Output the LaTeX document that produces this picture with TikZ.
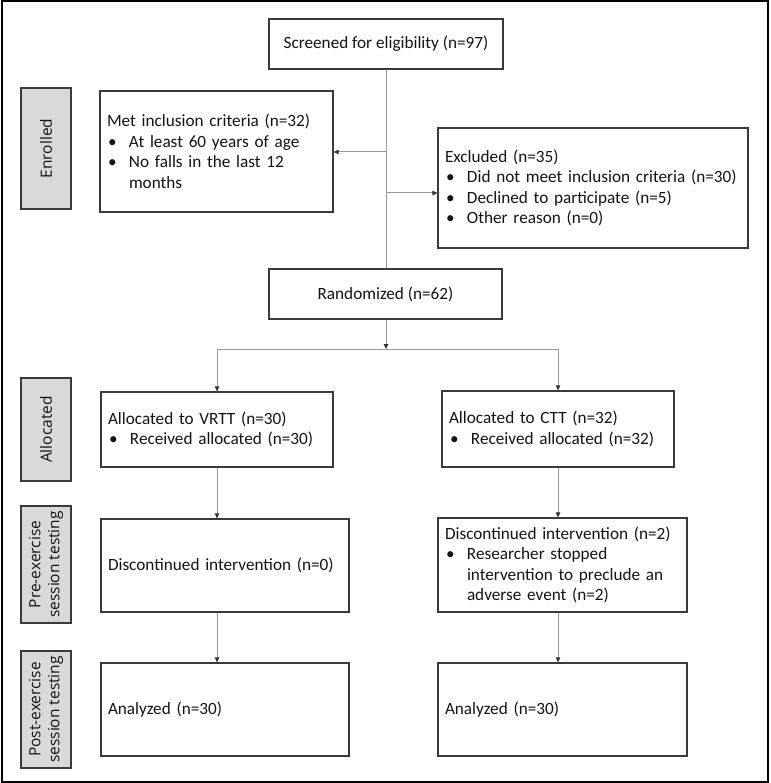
\documentclass[tikz,border=0pt]{standalone}
\usepackage{fontspec}
\setmainfont{Carlito}
\newfontfamily\labfont{Open Sans}
\usetikzlibrary{arrows.meta}
\definecolor{boxline}{HTML}{3A3A3A}
\definecolor{connline}{HTML}{9A9A9A}
\definecolor{grayfill}{HTML}{D9D9D9}
\definecolor{txt}{HTML}{141414}
\newcommand{\bul}{\makebox[22pt][l]{\hspace{1pt}\textbullet}}
\newcommand{\ind}{\hspace*{22pt}}
\begin{document}
\begin{tikzpicture}[x=1pt,y=-1pt,
  flowbox/.style={draw=boxline, line width=1.2pt, fill=white, inner xsep=7pt, inner ysep=0pt,
    align=left, text=txt, font=\fontsize{17.2}{20.5}\selectfont},
  cbox/.style={draw=boxline, line width=1.2pt, fill=white, inner sep=0pt,
    align=center, text=txt, font=\fontsize{17.2}{20.5}\selectfont},
  sidebox/.style={draw=boxline, line width=1.2pt, fill=grayfill, inner sep=0pt, rotate=90,
    align=center, text=txt, font=\labfont\fontsize{15.5}{19}\selectfont},
  conn/.style={draw=connline, line width=1pt},
  arr/.style={conn, -{Triangle[length=5pt,width=4.5pt,fill=black!80,color=black!80]}}
]
\useasboundingbox (0,0) rectangle (770,783);
\draw[line width=2pt, black] (2,1.5) rectangle (768,781.5);

% side labels
\node[sidebox, minimum width=121pt, minimum height=50pt] (senr) at (46,148.5) {Enrolled};
\node[sidebox, minimum width=103pt, minimum height=50pt] (salloc) at (46,429.5) {Allocated};
\node[sidebox, minimum width=117pt, minimum height=50pt] (spre) at (46,564.5) {Pre-exercise\\session testing};
\node[sidebox, minimum width=117pt, minimum height=50pt] (spost) at (46,709.5) {Post-exercise\\session testing};

% main boxes
\node[cbox, minimum width=234pt, minimum height=50pt] (scr) at (386,44) {Screened for eligibility (n=97)};
\node[flowbox, text width=219pt, minimum height=121pt] (met) at (216.5,151.5)
  {Met inclusion criteria (n=32)\\ \bul At least 60 years of age\\ \bul No falls in the last 12\\ \ind months};
\node[flowbox, text width=296pt, minimum height=120pt] (exc) at (593,188)
  {Excluded (n=35)\\ \bul Did not meet inclusion criteria (n=30)\\ \bul Declined to participate (n=5)\\ \bul Other reason (n=0)};
\node[cbox, minimum width=233pt, minimum height=50pt] (rand) at (385.5,294) {Randomized (n=62)};
\node[flowbox, text width=218pt, minimum height=75pt] (vrtt) at (217,429.5)
  {Allocated to VRTT (n=30)\\ \bul Received allocated (n=30)};
\node[flowbox, text width=218pt, minimum height=76pt] (ctt) at (558,429)
  {Allocated to CTT (n=32)\\ \bul Received allocated (n=32)};
\node[flowbox, text width=234pt, minimum height=93pt] (dzero) at (225,565.5)
  {Discontinued intervention (n=0)};
\node[flowbox, text width=235pt, minimum height=94pt] (dtwo) at (562.5,565)
  {Discontinued intervention (n=2)\\ \bul Researcher stopped\\ \ind intervention to preclude an\\ \ind adverse event (n=2)};
\node[flowbox, text width=234pt, minimum height=93pt] (anl) at (225,709.5) {Analyzed (n=30)};
\node[flowbox, text width=235pt, minimum height=93pt] (anr) at (562.5,709.5) {Analyzed (n=30)};

% connectors
\coordinate (jmet) at (386,152);
\coordinate (jexc) at (386,193);
\coordinate (br) at (386,349);
\coordinate (bl) at (217,349);
\coordinate (brr) at (558,349);
\draw[conn] (scr.south) -- (scr.south |- rand.north);
\draw[arr] (jmet) -- (jmet -| met.east);
\draw[arr] (jexc) -- (jexc -| exc.west);
\draw[arr] (rand.south -| br) -- (br);
\draw[conn] (bl) -- (brr);
\draw[arr] (bl) -- (bl |- vrtt.north);
\draw[arr] (brr) -- (brr |- ctt.north);
\draw[arr] (vrtt.south) -- (vrtt.south |- dzero.north);
\draw[arr] (vrtt.south |- dzero.south) -- (vrtt.south |- anl.north);
\draw[arr] (ctt.south) -- (ctt.south |- dtwo.north);
\draw[arr] (ctt.south |- dtwo.south) -- (ctt.south |- anr.north);
\end{tikzpicture}
\end{document}
